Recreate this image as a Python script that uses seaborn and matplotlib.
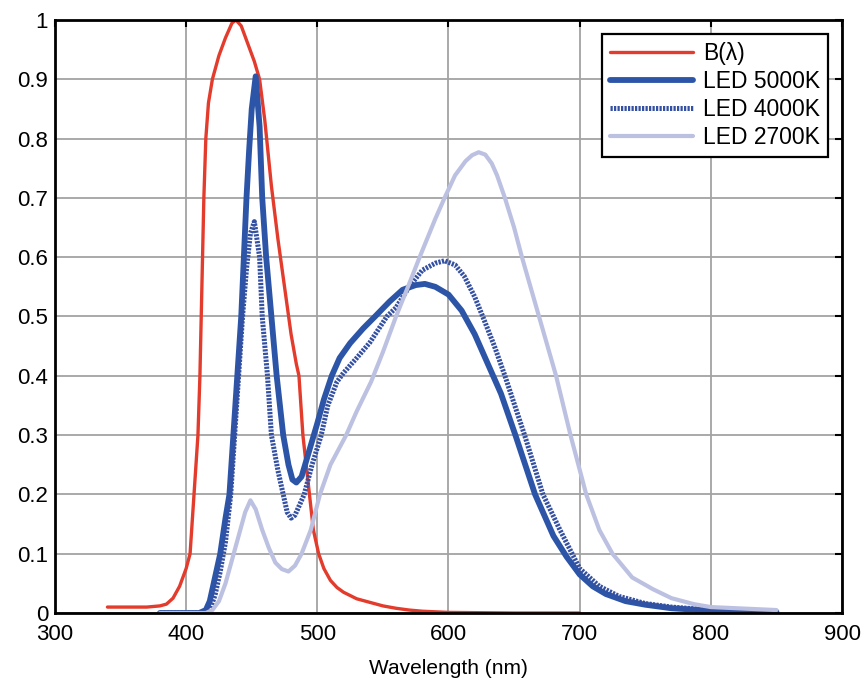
import matplotlib
matplotlib.use("Agg")
import matplotlib.pyplot as plt
import seaborn as sns

sns.set_theme(style="white")
plt.rcParams['font.family'] = ['Liberation Sans', 'DejaVu Sans']

# B(lambda) blue-light hazard curve
wl_b = [340, 350, 360, 370, 380, 385, 390, 395, 400, 403, 406, 409, 410.5, 412, 413.5,
        415, 417, 420, 425, 430, 435, 438, 442, 447, 452, 456, 460, 465, 470, 475,
        480, 484, 486, 489, 494, 497, 501, 505, 510, 515, 520, 530, 540, 550, 560,
        570, 580, 600, 650, 700]
val_b = [0.01, 0.01, 0.01, 0.01, 0.012, 0.015, 0.025, 0.045, 0.075, 0.1, 0.2, 0.3, 0.4, 0.55, 0.7,
         0.8, 0.86, 0.9, 0.94, 0.97, 0.995, 1.0, 0.99, 0.96, 0.93, 0.9, 0.83, 0.72, 0.63, 0.55,
         0.47, 0.42, 0.4, 0.3, 0.2, 0.14, 0.1, 0.075, 0.055, 0.043, 0.035, 0.024, 0.018, 0.012, 0.008,
         0.005, 0.003, 0.001, 0.0, 0.0]

# LED 5000K
wl_5000 = [380, 400, 410, 415, 418, 422, 426, 430, 433, 436, 439, 442, 444, 446, 448,
           450, 453, 456, 458, 461, 465, 469, 474, 478, 481, 484, 488, 492, 496, 500,
           505, 511, 517, 525, 535, 544, 555, 565, 575, 582, 590, 600, 610, 620, 630,
           640, 651, 660, 666, 680, 690, 700, 710, 720, 735, 750, 770, 800, 850]
val_5000 = [0, 0, 0, 0.005, 0.02, 0.06, 0.1, 0.16, 0.2, 0.3, 0.4, 0.5, 0.6, 0.7, 0.78,
            0.85, 0.905, 0.82, 0.7, 0.6, 0.5, 0.4, 0.3, 0.25, 0.225, 0.22, 0.23, 0.26, 0.29, 0.32,
            0.36, 0.4, 0.43, 0.455, 0.48, 0.5, 0.525, 0.545, 0.553, 0.555, 0.55, 0.537, 0.51, 0.47, 0.42,
            0.37, 0.3, 0.24, 0.2, 0.13, 0.095, 0.065, 0.045, 0.032, 0.02, 0.014, 0.008, 0.004, 0.002]

# LED 4000K
wl_4000 = [380, 410, 418, 422, 426, 430, 434, 437, 440, 443, 446, 449, 452, 454, 456,
           458, 462, 465, 470, 474, 477, 480, 483, 486, 490, 496, 503, 508, 515, 520,
           530, 540, 553, 560, 570, 580, 590, 597, 605, 612, 620, 627, 635, 643, 658,
           672, 685, 700, 715, 730, 750, 770, 800, 850]
val_4000 = [0, 0, 0.005, 0.03, 0.07, 0.12, 0.2, 0.3, 0.4, 0.5, 0.58, 0.64, 0.66, 0.63, 0.6,
            0.5, 0.4, 0.3, 0.24, 0.2, 0.17, 0.16, 0.165, 0.18, 0.2, 0.25, 0.3, 0.35, 0.39, 0.405,
            0.43, 0.456, 0.5, 0.515, 0.55, 0.578, 0.59, 0.594, 0.587, 0.568, 0.533, 0.495, 0.45, 0.4, 0.3,
            0.2, 0.14, 0.075, 0.045, 0.028, 0.016, 0.01, 0.005, 0.003]

# LED 2700K
wl_2700 = [380, 415, 420, 425, 430, 435, 440, 445, 449, 453, 458, 463, 468, 473, 478,
           483, 488, 495, 502, 510, 522, 530, 541, 550, 560, 570, 578, 590, 597, 605,
           613, 618, 623, 628, 633, 637, 643, 650, 656, 669, 682, 693, 705, 715, 725,
           740, 756, 770, 787, 800, 820, 850]
val_2700 = [0, 0, 0.005, 0.02, 0.05, 0.09, 0.13, 0.17, 0.19, 0.175, 0.14, 0.11, 0.085, 0.074, 0.07,
            0.08, 0.1, 0.14, 0.2, 0.25, 0.3, 0.34, 0.39, 0.44, 0.5, 0.555, 0.6, 0.665, 0.7, 0.738,
            0.762, 0.772, 0.777, 0.773, 0.758, 0.738, 0.7, 0.65, 0.6, 0.5, 0.4, 0.3, 0.2, 0.14, 0.1,
            0.06, 0.04, 0.025, 0.015, 0.01, 0.008, 0.005]

x_ticks = [300, 400, 500, 600, 700, 800, 900]
y_ticks = [0, 0.1, 0.2, 0.3, 0.4, 0.5, 0.6, 0.7, 0.8, 0.9, 1]
y_ticklabels = ["0", "0.1", "0.2", "0.3", "0.4", "0.5", "0.6", "0.7", "0.8", "0.9", "1"]

fig = plt.figure(figsize=(8.67, 6.94), dpi=100)
ax = fig.add_axes([0.0634, 0.1167, 0.9078, 0.8545])

sns.lineplot(x=wl_b, y=val_b, ax=ax, color="#e33b2c", linewidth=2.4, label="B(\u03bb)")
sns.lineplot(x=wl_5000, y=val_5000, ax=ax, color="#2c55a8", linewidth=4.2, label="LED 5000K")
sns.lineplot(x=wl_4000, y=val_4000, ax=ax, color="#3450a2", linewidth=3.6,
             linestyle=(0, (0.45, 0.25)), label="LED 4000K")
sns.lineplot(x=wl_2700, y=val_2700, ax=ax, color="#bcc1e1", linewidth=3.0, label="LED 2700K")

ax.set_xlim(300, 900)
ax.set_ylim(0, 1)
ax.set_xticks(x_ticks)
ax.set_yticks(y_ticks)
ax.set_yticklabels(y_ticklabels)
ax.grid(True, color="#a3a3a3", linewidth=1.3)
ax.set_axisbelow(True)
for sp in ax.spines.values():
    sp.set_color("black")
    sp.set_linewidth(2.0)
ax.tick_params(direction="in", length=5, width=1.5, colors="black", labelsize=16,
               top=True, right=True)
ax.tick_params(axis="x", pad=8)
ax.tick_params(axis="y", pad=5)
ax.set_xlabel("Wavelength (nm)", fontsize=15, labelpad=10, color="black")
ax.set_ylabel("")

leg = ax.legend(loc="upper right", fontsize=16.5, handlelength=3.6, handletextpad=0.45,
                labelspacing=0.22, borderpad=0.35, borderaxespad=0.6, fancybox=False,
                framealpha=1)
leg.get_frame().set_edgecolor("black")
leg.get_frame().set_linewidth(1.6)
for t in leg.get_texts():
    t.set_color("black")

fig.savefig("out.png", dpi=100, facecolor="white")
